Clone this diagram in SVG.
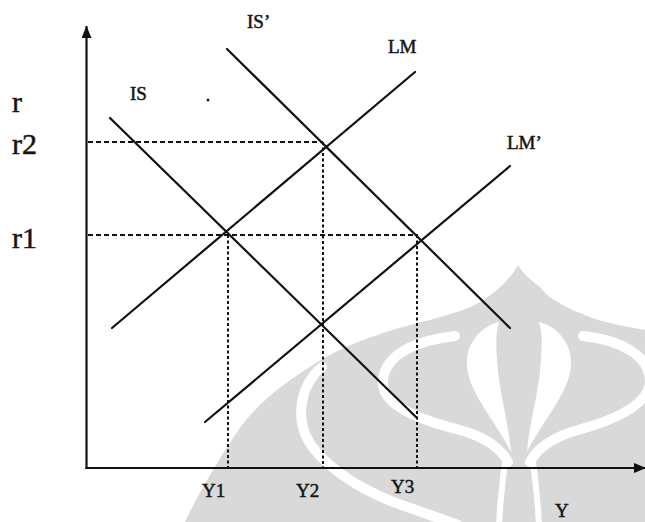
<svg xmlns="http://www.w3.org/2000/svg" width="645" height="522" viewBox="0 0 645 522">
<style>
.curve{stroke:#111;stroke-width:2.2;fill:none;stroke-linecap:round}
.axis{stroke:#111;stroke-width:2.2;fill:none}
.gh{stroke:#111;stroke-width:1.8;fill:none;stroke-dasharray:5 3}
.gv{stroke:#111;stroke-width:2;fill:none;stroke-dasharray:3 2.5}
.lbl{font-family:"Liberation Serif","Times New Roman",serif;fill:#151515;stroke:#151515;stroke-width:0.5;font-size:19px}
.big{font-size:30px}
.wm{fill:#d9d9d9}
.wmw{stroke:#fff;fill:none;stroke-linecap:round}
</style>
<defs>
<marker id="arr" viewBox="0 0 12 10" refX="12" refY="5" markerWidth="12" markerHeight="10" markerUnits="userSpaceOnUse" orient="auto">
<path d="M0,0 L12,5 L0,10 Z" fill="#111"/>
</marker>
</defs>
<rect width="645" height="522" fill="#fff"/>
<g id="watermark">
<path class="wm" d="M518,265 C510,280 490,300 463,310 C440,318 420,322 403,327 C370,336 335,350 313,365 C285,382 255,405 237,432 C220,458 200,490 185,522 L645,522 L645,330 C615,325 595,320 580,313 C560,305 545,295 540,287 C530,280 522,272 518,265 Z"/>
<path fill="#fff" d="M499,322 C482,326 466,342 467,365 C468,392 495,420 511,452 C508,420 500,395 498,370 C496,350 495,335 499,322 Z"/>
<path fill="#fff" d="M539,322 C556,326 572,342 571,365 C570,392 543,420 527,452 C530,420 538,395 540,370 C542,350 543,335 539,322 Z"/>
<path class="wmw" stroke-width="10" d="M455,336 C420,340 386,352 383,380 C380,405 420,420 460,430 C485,437 500,447 508,462"/>
<path class="wmw" stroke-width="10" d="M583,336 C620,340 650,355 650,382 C648,405 615,420 578,430 C553,437 538,447 530,462"/>
<path class="wmw" stroke-width="10" d="M322,367 C300,385 294,420 311,445 C330,472 370,495 410,508 C430,515 445,520 458,525"/>
<path class="wmw" stroke-width="6" d="M505,462 C502,485 500,505 499,525"/>
<path class="wmw" stroke-width="6" d="M533,462 C536,485 538,505 539,525"/>
</g>
<g id="connectors">
<g id="axes">
<line class="axis" x1="86.5" y1="469" x2="86.5" y2="26" marker-end="url(#arr)"/>
<line class="axis" x1="85.5" y1="468" x2="646" y2="468" marker-end="url(#arr)"/>
</g>
<g id="guides">
<line class="gh" x1="88" y1="142" x2="323" y2="142"/>
<line class="gh" x1="88" y1="235" x2="418" y2="235"/>
<line class="gv" x1="228" y1="235" x2="228" y2="467"/>
<line class="gv" x1="323" y1="142" x2="323" y2="467"/>
<line class="gv" x1="417" y1="235" x2="417" y2="467"/>
</g>
</g>
<g id="IS"><line class="curve" x1="110" y1="118" x2="417" y2="418"/><text class="lbl" x="130" y="100">IS</text></g>
<g id="IS-prime"><line class="curve" x1="227" y1="49" x2="510" y2="328"/><text class="lbl" x="247" y="28">IS’</text></g>
<g id="LM"><line class="curve" x1="112" y1="328" x2="415" y2="72"/><text class="lbl" x="388" y="53" font-size="20">LM</text></g>
<g id="LM-prime"><line class="curve" x1="205" y1="422" x2="510" y2="166"/><text class="lbl" x="507" y="149" font-size="20">LM’</text></g>
<g id="labels">
<text class="lbl big" x="12" y="112">r</text>
<text class="lbl big" x="12" y="154">r2</text>
<text class="lbl big" x="12" y="248">r1</text>
<text class="lbl" x="202" y="497" font-size="21">Y1</text>
<text class="lbl" x="296" y="497" font-size="21">Y2</text>
<text class="lbl" x="391" y="493" font-size="21">Y3</text>
<text class="lbl" x="555" y="517" font-size="22">Y</text>
<circle cx="208" cy="100" r="1.5" fill="#222"/>
</g>
</svg>
